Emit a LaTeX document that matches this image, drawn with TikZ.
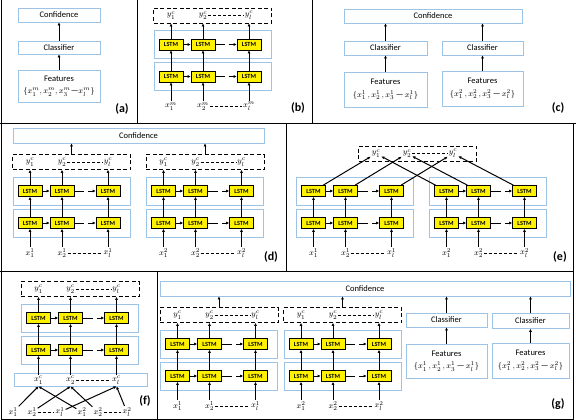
\documentclass[tikz,border=0pt]{standalone}
\usepackage{fontspec}
\setmainfont{Carlito}
\usetikzlibrary{arrows.meta}
\definecolor{layerblue}{HTML}{9DC3E6}

\tikzset{
  box/.style={draw=layerblue, line width=0.8pt, inner sep=1pt, align=center, font=\fontsize{8.5}{12.5}\selectfont},
  layer/.style={draw=layerblue, line width=0.8pt, minimum width=117pt, minimum height=28pt, inner sep=0pt},
  lstm/.style={draw, fill=yellow, line width=0.6pt, minimum width=24pt, minimum height=11pt, inner sep=0pt, font=\fontsize{6.3}{6.3}\selectfont\bfseries},
  dbox/.style={draw, dash pattern=on 4pt off 2.5pt, line width=0.7pt, minimum width=118pt, minimum height=15pt, inner sep=0pt},
  inp/.style={inner sep=1pt, font=\fontsize{8}{9}\selectfont},
  arr/.style={-{Latex[length=3pt,width=3pt]}, line width=1pt},
  dsh/.style={dash pattern=on 3pt off 2pt, line width=0.6pt},
  lab/.style={font=\fontsize{12}{14}\selectfont\bfseries},
}

% two LSTM layers with their inputs: name, centre x, y of upper row, input superscript
\newcommand{\lstmcore}[4]{%
  \foreach \r/\yy in {u/0,d/32}{
    \node[layer] (#1\r) at (#2,#3+\yy) {};
    \foreach \c/\dx in {1/-41.5,2/-9.5,3/36.5}
      \node[lstm] (#1\r\c) at (#2+\dx,#3+\yy) {LSTM};
    \draw[arr] (#1\r1) -- (#1\r2);
    \draw[arr,dash pattern=on 10pt off 4pt] (#1\r2) -- (#1\r3);
  }
  \foreach \c/\dx/\t in {1/-41.5/1,2/-9.5/2,3/36.5/l}{
    \draw[arr] (#1d\c) -- (#1u\c);
    \node[inp] (#1x\c) at (#2+\dx,#3+62) {$x_{\t}^{#4}$};
    \draw[arr] (#1x\c) -- (#1d\c);
  }
  \draw[dsh] (#1x2) -- (#1x3);
}
% dashed output box: name, centre x, y
\newcommand{\lstmout}[3]{%
  \node[dbox] (#1o) at (#2,#3) {};
  \foreach \c/\dx/\t in {1/-41.5/1,2/-9.5/2,3/36.5/l}{
    \node[inp] (#1y\c) at (#2+\dx,#3) {$y_{\t}^{c}$};
    \draw[arr] (#1u\c) -- (#1u\c |- #1o.south);
  }
  \draw[dsh] (#1y2) -- (#1y3);
}

\begin{document}
\begin{tikzpicture}[x=1pt,y=-1pt]
    \useasboundingbox (0,0) rectangle (576,420);
    % panel frames
    \draw[line width=0.8pt] (1,0) -- (1,419) -- (573,419) -- (573,123);
    \draw[line width=0.8pt] (0,123) -- (576,123) (0,271) -- (573,271);
    \draw[line width=0.8pt] (137.5,0) -- (137.5,123) (312,0) -- (312,123) (286,123) -- (286,271) (157,271) -- (157,419);

    % (a)
    \node[box,minimum width=82pt,minimum height=14pt] (aconf) at (59,15) {Confidence};
    \node[box,minimum width=82pt,minimum height=13pt] (acls) at (59,47.5) {Classifier};
    \node[box,minimum width=82pt,minimum height=32pt] (afeat) at (59,86) {Features\\$\{x_1^m,x_2^m,x_3^m\mbox{—}x_l^m\}$};
    \draw[arr] (afeat) -- (acls);
    \draw[arr] (acls) -- (aconf);
    \node[lab] (alab) at (122,109) {(a)};

    % (b)
    \lstmcore{b}{212.5}{44.5}{m}
    \lstmout{b}{212.5}{15.5}
    \node[lab] (blab) at (298,108) {(b)};

    % (c)
    \node[box,minimum width=178pt,minimum height=14pt] (cconf) at (433,16) {Confidence};
    \node[box,minimum width=83pt,minimum height=14pt] (ccls1) at (385.5,48) {Classifier};
    \node[box,minimum width=81pt,minimum height=14pt] (ccls2) at (482.5,48) {Classifier};
    \node[box,minimum width=83pt,minimum height=35pt] (cfeat1) at (385.5,89.5) {Features\\$\{x_1^1\,,x_2^1\,,x_3^1\,\mbox{—}\,x_l^1\}$};
    \node[box,minimum width=81pt,minimum height=35pt] (cfeat2) at (482.5,88.5) {Features\\$\{x_1^2\,,x_2^2\,,x_3^2\,\mbox{—}\,x_l^2\}$};
    \draw[arr] (cfeat1) -- (ccls1);
    \draw[arr] (cfeat2) -- (ccls2);
    \draw[arr] (ccls1) -- (ccls1 |- cconf.south);
    \draw[arr] (ccls2) -- (ccls2 |- cconf.south);
    \node[lab] (clab) at (558,108) {(c)};

    % (d)
    \node[box,minimum width=251pt,minimum height=15pt] (dconf) at (138.5,135.5) {Confidence};
    \lstmcore{dl}{71.5}{191}{1}
    \lstmout{dl}{71.5}{162}
    \lstmcore{dr}{205}{191}{2}
    \lstmout{dr}{205}{162}
    \draw[arr] (dlo) -- (dlo |- dconf.south);
    \draw[arr] (dro) -- (dro |- dconf.south);
    \node[lab] (dlab) at (271,257) {(d)};

    % (e)
    \lstmcore{el}{355}{191}{1}
    \lstmcore{er}{488}{191}{2}
    \node[dbox] (eo) at (417.5,153.5) {};
    \node[inp] (ey1) at (376,153.5) {$y_1^c$};
    \node[inp] (ey2) at (407,153.5) {$y_2^c$};
    \node[inp] (ey3) at (453,153.5) {$y_l^c$};
    \draw[dsh] (ey2) -- (ey3);
    \foreach \c in {1,2,3}{
      \draw[arr] (elu\c) -- (ey\c);
      \draw[arr] (eru\c) -- (ey\c);
    }
    \node[lab] (elab) at (560,257) {(e)};

    % (f)
    \node[box,minimum width=133pt,minimum height=13pt] (fbox) at (80.5,379.5) {};
    \lstmcore{f}{80}{318}{c}
    \lstmout{f}{80}{289}
    \node[inp] (fa1) at (13,412) {$x_1^1$};
    \node[inp] (fa2) at (32,412) {$x_2^1$};
    \node[inp] (fa3) at (60,412) {$x_l^1$};
    \node[inp] (fb1) at (82,412) {$x_1^2$};
    \node[inp] (fb2) at (98,412) {$x_2^2$};
    \node[inp] (fb3) at (127,412) {$x_l^2$};
    \draw[dsh] (fa2) -- (fa3);
    \draw[dsh] (fb2) -- (fb3);
    \foreach \c in {1,2,3}{
      \draw[arr] (fa\c) -- (fx\c |- fbox.south);
      \draw[arr] (fb\c) -- (fx\c |- fbox.south);
    }
    \node[lab] (flab) at (145,401) {(f)};

    % (g)
    \node[box,minimum width=410pt,minimum height=15pt] (gconf) at (365,288.5) {Confidence};
    \lstmcore{gl}{219}{344}{1}
    \lstmout{gl}{219}{315}
    \lstmcore{gr}{342.5}{344}{2}
    \lstmout{gr}{342.5}{315}
    \draw[arr] (glo) -- (glo |- gconf.south);
    \draw[arr] (gro) -- (gro |- gconf.south);
    \node[box,minimum width=81pt,minimum height=14pt] (gcls1) at (446.5,320) {Classifier};
    \node[box,minimum width=77pt,minimum height=15pt] (gcls2) at (530.5,321) {Classifier};
    \node[box,minimum width=81pt,minimum height=34pt] (gfeat1) at (446.5,361) {Features\\$\{x_1^1\,,x_2^1\,,x_3^1\,\mbox{—}\,x_l^1\}$};
    \node[box,minimum width=77pt,minimum height=35pt] (gfeat2) at (530.5,360.5) {Features\\$\{x_1^2\,,x_2^2\,,x_3^2\,\mbox{—}\,x_l^2\}$};
    \draw[arr] (gfeat1) -- (gcls1);
    \draw[arr] (gfeat2) -- (gcls2);
    \draw[arr] (gcls1) -- (gcls1 |- gconf.south);
    \draw[arr] (gcls2) -- (gcls2 |- gconf.south);
    \node[lab] (glab) at (558,404) {(g)};
\end{tikzpicture}
\end{document}
